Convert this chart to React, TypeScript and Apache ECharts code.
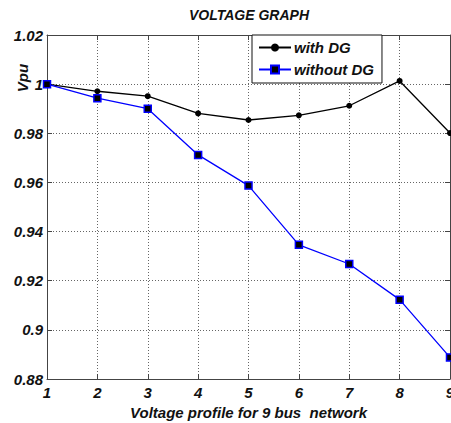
import React, { useEffect, useRef } from "react";
import * as echarts from "echarts";

const busNumbers = [1, 2, 3, 4, 5, 6, 7, 8, 9];
const withDG = [1.0, 0.9971, 0.9951, 0.9881, 0.9854, 0.9873, 0.9912, 1.0013, 0.9801];
const withoutDG = [1.0, 0.9943, 0.99, 0.9712, 0.9587, 0.9346, 0.9268, 0.9123, 0.8888];
const seriesNames = ["with DG", "without DG"];
const titleText = "VOLTAGE GRAPH";
const xAxisName = "Voltage profile for 9 bus  network";
const yAxisName = "Vpu";

const FONT = "'Liberation Sans', Arial, sans-serif";

export default function App() {
  const ref = useRef<HTMLDivElement>(null);
  useEffect(() => {
    if (!ref.current) return;
    const chart = echarts.init(ref.current, undefined, { renderer: "svg" });
    const labelStyle = {
      fontFamily: FONT,
      fontWeight: "bold" as const,
      fontStyle: "italic" as const,
      fontSize: 15,
      color: "#111",
    };
    const gridLine = { show: true, lineStyle: { color: "#666", type: [1, 2] as any, width: 1 } };
    const axisLine = { show: true, lineStyle: { color: "#444", width: 1 } };
    const tick = { show: true, inside: true, length: 5, lineStyle: { color: "#444" } };
    chart.setOption({
      animation: false,
      backgroundColor: "#fff",
      grid: {
        left: 47,
        right: 1,
        top: 35,
        bottom: 44,
        containLabel: false,
        outerBoundsMode: "none",
      },
      xAxis: [
        {
          type: "value",
          min: 1,
          max: 9,
          interval: 1,
          position: "bottom",
          axisLine,
          axisTick: tick,
          splitLine: gridLine,
          axisLabel: { ...labelStyle, margin: 6, hideOverlap: false, showMaxLabel: true },
          name: xAxisName,
          nameLocation: "middle",
          nameGap: 23,
          nameTextStyle: { ...labelStyle },
        },
        {
          type: "value",
          min: 1,
          max: 9,
          interval: 1,
          position: "top",
          axisLine,
          axisTick: tick,
          splitLine: { show: false },
          axisLabel: { show: false },
        },
      ],
      yAxis: [
        {
          type: "value",
          min: 0.88,
          max: 1.02,
          interval: 0.02,
          position: "left",
          axisLine,
          axisTick: tick,
          splitLine: gridLine,
          axisLabel: {
            ...labelStyle,
            margin: 4,
            formatter: (v: number) => String(parseFloat(v.toFixed(2))),
          },
        },
        {
          type: "value",
          min: 0.88,
          max: 1.02,
          interval: 0.02,
          position: "right",
          axisLine,
          axisTick: tick,
          splitLine: { show: false },
          axisLabel: { show: false },
        },
      ],
      legend: {
        orient: "vertical",
        left: 252,
        top: 35,
        padding: [5, 8, 6, 6],
        itemGap: 7,
        itemWidth: 32,
        itemHeight: 10,
        backgroundColor: "#fff",
        borderColor: "#111",
        borderWidth: 1,
        borderRadius: 0,
        textStyle: { ...labelStyle, lineHeight: 15, padding: [0, 0, 0, -2] },
        data: seriesNames,
      },
      graphic: [
        {
          type: "text",
          x: 249,
          y: 15,
          style: {
            text: titleText,
            font: `italic bold 14px ${FONT}`,
            fill: "#111",
            align: "center",
            verticalAlign: "middle",
          },
        },
        {
          type: "text",
          x: 22,
          y: 78,
          rotation: Math.PI / 2,
          style: {
            text: yAxisName,
            font: `italic bold 15px ${FONT}`,
            fill: "#111",
            align: "center",
            verticalAlign: "middle",
          },
        },
      ],
      series: [
        {
          name: seriesNames[0],
          type: "line",
          data: busNumbers.map((x, i) => [x, withDG[i]]),
          symbol: "circle",
          symbolSize: 6,
          lineStyle: { color: "#000", width: 1.3 },
          itemStyle: { color: "#000" },
          z: 3,
        },
        {
          name: seriesNames[1],
          type: "line",
          data: busNumbers.map((x, i) => [x, withoutDG[i]]),
          symbol: "rect",
          symbolSize: 7,
          lineStyle: { color: "#0000ff", width: 1.3 },
          itemStyle: { color: "#000", borderColor: "#0000ff", borderWidth: 1.5 },
          z: 3,
        },
      ],
    });
    return () => chart.dispose();
  }, []);
  return (
    <div
      ref={ref}
      style={{ position: "fixed", left: 0, top: 0, width: 451, height: 423 }}
    />
  );
}
